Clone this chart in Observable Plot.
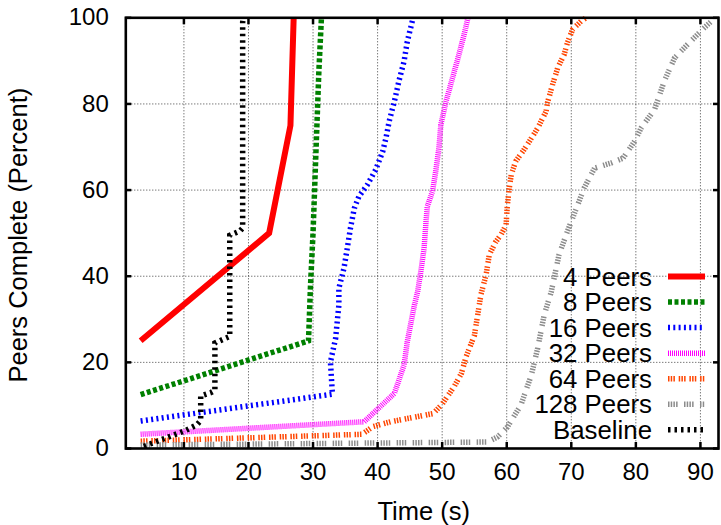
<!DOCTYPE html>
<html><head><meta charset="utf-8">
<script src="https://cdn.jsdelivr.net/npm/d3@7"></script>
<script src="https://cdn.jsdelivr.net/npm/@observablehq/plot@0.6"></script>
<style>
html,body{margin:0;padding:0;background:#fff;}
#wrap{position:relative;width:721px;height:525px;font-family:"Liberation Sans",Arial,sans-serif;}
#legend{position:absolute;left:0;top:0;pointer-events:none;}
</style></head><body><div id="wrap"></div>
<script>
// ---- data (time in s, peers complete in percent) ----
const xTicks = [10, 20, 30, 40, 50, 60, 70, 80, 90];
const yTicks = [0, 20, 40, 60, 80, 100];
const xTitle = "Time (s)";
const yTitle = "Peers Complete (Percent)";
const seriesNames = ["4 Peers", "8 Peers", "16 Peers", "32 Peers", "64 Peers", "128 Peers", "Baseline"];

const peers4 = [[3.3,25],[23.2,50],[26.5,75],[27.0,100]];
const peers8 = [[3.3,12.5],[29.3,25],[29.6,37.5],[30.0,50],[30.3,62.5],[30.6,75],[30.9,87.5],[31.3,100]];
const peers16 = [[3.3,6.4],[33.0,12.6],[32.7,20.1],[33.5,25.6],[34.0,33.3],[34.0,37.2],[34.8,41.9],[35.3,46.5],
  [35.8,51.2],[36.4,55.8],[37.1,58.5],[38.4,61.2],[39.7,64.7],[40.8,69],[41.3,72.1],[41.8,76],[42.6,80.6],
  [43.3,85.3],[44.1,89.9],[44.6,94.5],[45.5,100]];
const peers32 = [[3.3,3.3],[37.9,6.2],[42.6,12.8],[44.1,19.4],[44.6,24.8],[45.1,28.7],[45.7,33.3],[46.2,36.4],
  [46.7,41.1],[47.2,46.5],[47.5,52.7],[47.7,56.2],[48.5,59.7],[49.0,64.3],[49.5,69.8],[49.8,75.2],[50.6,80.6],
  [51.6,86],[52.6,91.5],[53.4,96.1],[54.0,100]];
const peers64 = [[3.3,1.7],[37.6,3.3],[39.3,5.1],[42.0,6.2],[48.6,8.1],[50.0,10.3],[51.9,14.5],[53.0,17.5],
  [53.7,21.3],[55.0,26.3],[55.5,31],[56.0,35.7],[56.8,40.3],[57.3,45],[58.3,48],[59.1,49.6],[59.9,51.9],
  [60.1,56.6],[60.4,60.5],[60.7,63.6],[61.4,66.7],[62.5,69],[63.5,71.3],[64.8,74.4],[66.1,78.3],[66.3,80.2],
  [67.1,84.5],[67.9,88.4],[68.9,91.5],[69.4,94.2],[70.2,97.3],[71.5,99.2],[72.3,100]];
const peers128 = [[3.3,0.8],[57.0,1.5],[58.6,2.7],[60.1,5.0],[62.2,10.1],[63.8,17.0],[64.8,23.3],[65.8,31],
  [66.9,36.4],[68.1,45],[69.4,50.4],[71.0,56.6],[72.0,60.5],[73.6,65.1],[76.2,66.3],[78.0,67.4],[79.8,71.3],
  [80.8,74.4],[82.9,78.7],[84.4,85.3],[86.0,90.7],[88.0,93.8],[90.6,97.7],[91.7,99.2],[92.2,100]];
const baseline = [[3.8,0.5],[10.3,4.2],[12.0,5.5],[12.6,6.5],[12.6,12.2],[14.2,13],[14.8,13.5],[14.8,24.5],
  [16.3,25.5],[17.1,26],[17.1,49.5],[18.7,50.5],[19.1,51.2],[19.1,99],[19.2,100]];

const seriesData = [peers4, peers8, peers16, peers32, peers64, peers128, baseline];

// ---- styles ----
const seriesColors = ["#ff0000", "#008000", "#0000ff", "#ff00ff", "#ff4500", "#8c8c8c", "#000000"];
const seriesDash = [null, "4,2.5", "2,3.3", "1,1", "1.5,1.2,1.5,1.2,1.5,3.8", "1.5,1.2,1.5,1.2,1.5,1.2,1.5,6.4", "2.5,4"];
const seriesWidth = [6, 5.5, 5.5, 5.5, 5.5, 5.5, 5.5];

const W = 721, H = 525;
const mL = 125.3, mR = 3, mT = 17.3, mB = 77;
const FONT = '"Liberation Sans", Arial, sans-serif';

const lineMarks = seriesData.map((d, i) => Plot.line(d, {
  x: p => p[0], y: p => p[1],
  stroke: seriesColors[i], strokeWidth: seriesWidth[i],
  strokeDasharray: seriesDash[i] || undefined,
  strokeLinecap: "butt", strokeLinejoin: "miter", strokeMiterlimit: 4
}));

const chart = Plot.plot({
  width: W, height: H,
  marginLeft: mL, marginRight: mR, marginTop: mT, marginBottom: mB,
  style: {fontFamily: FONT, fontSize: "24px", color: "#000", background: "#fff", overflow: "visible"},
  x: {domain: [1, 92.8]},
  y: {domain: [0, 100]},
  marks: [
    Plot.gridX(xTicks, {stroke: "#000", strokeOpacity: 0.75, strokeDasharray: "1,2"}),
    Plot.gridY(yTicks.filter(v => v > 0 && v < 100), {stroke: "#000", strokeOpacity: 0.75, strokeDasharray: "1,2"}),
    ...lineMarks,
    Plot.frame({stroke: "#000", strokeWidth: 2.6}),
    Plot.axisX(xTicks, {anchor: "bottom", tickSize: -6, tickPadding: 20, strokeWidth: 2.5, label: null}),
    Plot.axisX(xTicks, {anchor: "top", tickSize: -6, strokeWidth: 2.5, tickFormat: () => "", label: null}),
    Plot.axisY(yTicks, {anchor: "left", tickSize: -6, tickPadding: 23, strokeWidth: 2.5, label: null}),
    Plot.axisY(yTicks, {anchor: "right", tickSize: -6, strokeWidth: 2.5, tickFormat: () => "", label: null}),
    Plot.text([xTitle], {frameAnchor: "bottom", textAnchor: "middle", lineAnchor: "middle",
      dy: 63.5, dx: 1.5, fontSize: 25.5, fill: "#000"}),
    Plot.text([yTitle], {frameAnchor: "left", textAnchor: "middle", lineAnchor: "middle", rotate: -90,
      dx: -107.3, dy: 2, fontSize: 25.5, fill: "#000"})
  ]
});

const wrap = document.getElementById("wrap");
wrap.appendChild(chart);

// ---- legend (inside plot, bottom right) ----
const ns = "http://www.w3.org/2000/svg";
const leg = document.createElementNS(ns, "svg");
leg.setAttribute("id", "legend");
leg.setAttribute("width", W);
leg.setAttribute("height", H);
const rowTop = 276.5, rowStep = 25.55, textRight = 652, sampleX1 = 668, sampleX2 = 705;
seriesNames.forEach((name, i) => {
  const cy = rowTop + i * rowStep;
  const t = document.createElementNS(ns, "text");
  t.setAttribute("x", textRight);
  t.setAttribute("y", cy);
  t.setAttribute("dy", "0.35em");
  t.setAttribute("text-anchor", "end");
  t.setAttribute("font-size", "25.8px");
  t.setAttribute("font-family", FONT);
  t.setAttribute("fill", "#000");
  t.textContent = name;
  leg.appendChild(t);
  const l = document.createElementNS(ns, "line");
  l.setAttribute("x1", sampleX1); l.setAttribute("x2", sampleX2);
  l.setAttribute("y1", cy); l.setAttribute("y2", cy);
  l.setAttribute("stroke", seriesColors[i]);
  l.setAttribute("stroke-width", seriesWidth[i]);
  if (seriesDash[i]) l.setAttribute("stroke-dasharray", seriesDash[i]);
  leg.appendChild(l);
});
wrap.appendChild(leg);
</script></body></html>
